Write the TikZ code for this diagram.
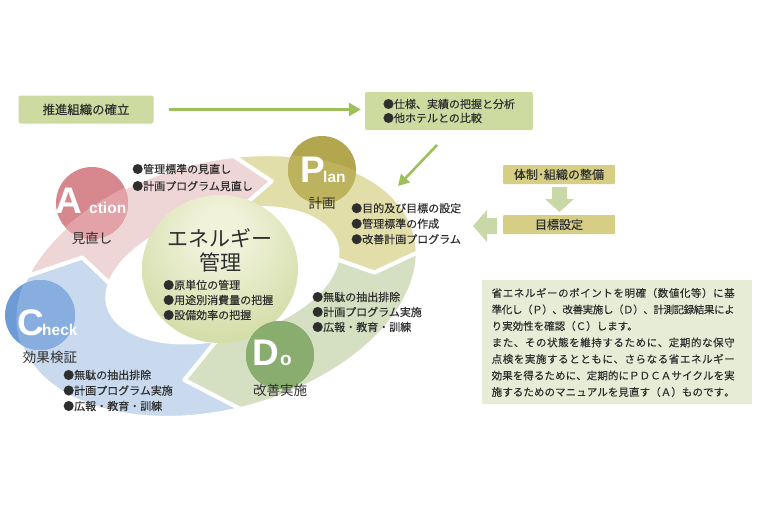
\documentclass[tikz,border=0pt]{standalone}
\usepackage{fontspec}
\setmainfont{Noto Sans CJK JP}[FakeBold=0.2]
\newfontfamily\jpreg{Noto Sans CJK JP}
\newfontfamily\lat{Liberation Sans}
\usetikzlibrary{arrows.meta,shapes.geometric}
\definecolor{pinkseg}{HTML}{EFD6D6}
\definecolor{khakiseg}{HTML}{E2DEAA}
\definecolor{greenseg}{HTML}{D5E0C3}
\definecolor{blueseg}{HTML}{C9DAEF}
\definecolor{actc}{HTML}{D7878E}
\definecolor{actl}{HTML}{E2A2A7}
\definecolor{planc}{HTML}{B2A74F}
\definecolor{planl}{HTML}{BDB35F}
\definecolor{checkc}{HTML}{6C9BD5}
\definecolor{checkl}{HTML}{88AEDF}
\definecolor{doc}{HTML}{7CA360}
\definecolor{dol}{HTML}{88AD6E}
\definecolor{ballin}{HTML}{F0F2DA}
\definecolor{ballmid}{HTML}{C8D594}
\definecolor{ballout}{HTML}{A5BB5B}
\definecolor{boxg}{HTML}{CDDAA0}
\definecolor{arrg}{HTML}{9EC05C}
\definecolor{boxk}{HTML}{D5CE84}
\definecolor{fatarr}{HTML}{C8D8A6}
\definecolor{txtbox}{HTML}{E7ECD7}
\definecolor{txt}{HTML}{2E2E2E}
\pgfdeclareradialshading{ballsh}{\pgfpoint{0bp}{14bp}}{color(0bp)=(ballin); color(8bp)=(ballin); color(42bp)=(ballmid); color(62bp)=(ballout); color(75bp)=(ballout)}
\def\sprA#1{\ifx#1\relax\else\hskip 0pt plus 1fil minus 0.5pt#1\expandafter\sprA\fi}
\def\sprB#1{#1\sprA}
\newcommand\jline[1]{\makebox[243pt][s]{\sprB#1\relax}}
% ring segment: outer start, outer end, tip, inner end, inner start, notch, colour
\newcommand\ringseg[7]{%
  \path[fill=#7, draw=white, line width=4pt, line join=round]
  plot[domain=#1:#2, samples=60] ({205*cos(\x)},{125*sin(\x)})
  -- ({4+161.5*cos(#3)},{-4.5+93.5*sin(#3)})
  -- plot[domain=#4:#5, samples=60] ({8+118*cos(\x)},{-9+62*sin(\x)})
  -- ({4+161.5*cos(#6)},{-4.5+93.5*sin(#6)}) -- cycle;}
\newcommand\ringlight[1]{%
  \fill[#1, shift={(217,286)}, rotate=15] plot[domain=0:360, samples=120] ({205*cos(\x)},{125*sin(\x)}) -- cycle;}
\tikzset{
  bul/.style={font=\fontsize{11}{15.5}\selectfont, align=left, inner sep=0pt, anchor=west},
  lab/.style={font=\jpreg\fontsize{13.5}{14}\selectfont, inner sep=0pt},
  bigl/.style={font=\lat\bfseries\fontsize{37}{37}\selectfont, text=white, inner sep=0pt, anchor=base west},
  smal/.style={font=\lat\bfseries\fontsize{15.5}{16}\selectfont, text=white, inner sep=0pt, anchor=base west},
  gbox/.style={fill=boxg, rounded corners=2pt, inner sep=0pt},
  kbox/.style={fill=boxk, rounded corners=1pt, inner sep=0pt, minimum width=112pt, minimum height=19pt, font=\fontsize{12}{12}\selectfont},
  garr/.style={draw=arrg, line width=3pt, -{Triangle[length=12pt,width=13pt]}},
  pcirc/.style={circle, inner sep=0pt, minimum size=#1},
}
\begin{document}
\begin{tikzpicture}[x=1pt, y=-1pt, text=txt]
\fill[white] (0,0) rectangle (768,512);
\useasboundingbox (0,0) rectangle (768,512);

% ---- PDCA ring ----
\begin{scope}[shift={(217,286)}, rotate=15]
  \ringseg{284}{369}{380.2}{373.4}{286.5}{298}{khakiseg}
  \ringseg{369}{452.6}{471.8}{460.7}{373.4}{380.2}{greenseg}
  \ringseg{452.6}{568}{578.3}{559.9}{460.7}{471.8}{blueseg}
  \ringseg{568}{644}{658}{646.5}{559.9}{578.3}{pinkseg}
\end{scope}

% ---- centre ball ----
\node[ellipse, minimum width=156pt, minimum height=148pt, inner sep=0pt, shading=ballsh] (ball) at (220,269) {};
\node[font=\jpreg\fontsize{21}{24}\selectfont, align=center, inner sep=0pt] (title) at (220,250) {エネルギー\\管理};
\node[bul, font=\fontsize{11}{15}\selectfont] (cbul) at (163,300) {●原単位の管理\\●用途別消費量の把握\\●設備効率の把握};

% ---- PDCA circles ----
\node[pcirc=72pt, fill=actc] (act) at (92,203) {};
\begin{scope}\clip (act.center) circle[radius=36pt]; \ringlight{actl}\end{scope}
\node[pcirc=68pt, fill=planc] (plan) at (322,170) {};
\begin{scope}\clip (plan.center) circle[radius=34pt]; \ringlight{planl}\end{scope}
\node[pcirc=70pt, fill=checkc] (check) at (40,315) {};
\begin{scope}\clip (check.center) circle[radius=35pt]; \ringlight{checkl}\end{scope}
\node[pcirc=68pt, fill=doc] (do) at (280,355) {};
\begin{scope}\clip (do.center) circle[radius=34pt]; \ringlight{dol}\end{scope}

\node[bigl] (la) at (55,213) {A};
\node[smal] (la2) at (89,213) {ction};
\node[bigl] (lp) at (300,182) {P};
\node[smal] (lp2) at (323,182) {lan};
\node[bigl] (lc) at (17,335) {C};
\node[smal] (lc2) at (42,335) {heck};
\node[bigl] (ld) at (252,365) {D};
\node[font=\lat\bfseries\fontsize{19}{19}\selectfont, text=white, inner sep=0pt, anchor=base west] (ld2) at (280,365) {o};

\node[lab] (tact) at (92,238) {見直し};
\node[lab] (tplan) at (322,203) {計画};
\node[lab] (tcheck) at (50,357) {効果検証};
\node[lab] (tdo) at (280,390) {改善実施};

% ---- bullet lists ----
\node[bul, font=\fontsize{11}{17}\selectfont] (abul) at (132,177.5) {●管理標準の見直し\\●計画プログラム見直し};
\node[bul] (pbul) at (351,223.7) {●目的及び目標の設定\\●管理標準の作成\\●改善計画プログラム};
\node[bul, font=\fontsize{11}{15}\selectfont] (dbul) at (312,312) {●無駄の抽出排除\\●計画プログラム実施\\●広報・教育・訓練};
\node[bul] (chbul) at (63,390.5) {●無駄の抽出排除\\●計画プログラム実施\\●広報・教育・訓練};

% ---- top boxes and arrows ----
\node[gbox, minimum width=135pt, minimum height=28pt, font=\fontsize{12.4}{13}\selectfont] (b1) at (86,109.5) {推進組織の確立};
\node[gbox, minimum width=168pt, minimum height=38pt, align=left, font=\fontsize{11}{14}\selectfont] (b2) at (449,111) {●仕様、実績の把握と分析\\●他ホテルとの比較};
\draw[garr, shorten <=15pt, shorten >=4pt] (b1.east) -- (b1.east -| b2.west);
\coordinate (dstart) at (437,145);
\coordinate (dend) at (398,186);
\draw[draw=arrg, line width=2.6pt, -{Triangle[length=11pt,width=12pt]}] (dstart) -- (dend);

% ---- right side boxes ----
\node[kbox] (k1) at (559,174.5) {体制･組織の整備};
\node[kbox] (k2) at (559,224.5) {目標設定};
\fill[fatarr] (552,187) -- (567,187) -- (567,199) -- (574,199) -- (559.5,212) -- (545,199) -- (552,199) -- cycle;
\fill[fatarr] (497,218) -- (487,218) -- (487,210) -- (473,226) -- (487,242) -- (487,234) -- (497,234) -- cycle;

% ---- explanation box ----
\node[fill=txtbox, minimum width=270pt, minimum height=124pt, inner sep=0pt] (tb) at (617,342) {};
\node[font=\fontsize{10.5}{16.5}\selectfont, align=left, inner sep=0pt, anchor=west] (tbt) at (491.5,342.5) {%
\jline{省エネルギーのポイントを明確（数値化等）に基}\\
\jline{準化し（Ｐ）、改善実施し（Ｄ）、計測記録結果によ}\\
り実効性を確認（Ｃ）します。\\
\jline{また、その状態を維持するために、定期的な保守}\\
\jline{点検を実施するとともに、さらなる省エネルギー}\\
\jline{効果を得るために、定期的にＰＤＣＡサイクルを実}\\
\jline{施するためのマニュアルを見直す（Ａ）ものです。}};
\end{tikzpicture}
\end{document}
